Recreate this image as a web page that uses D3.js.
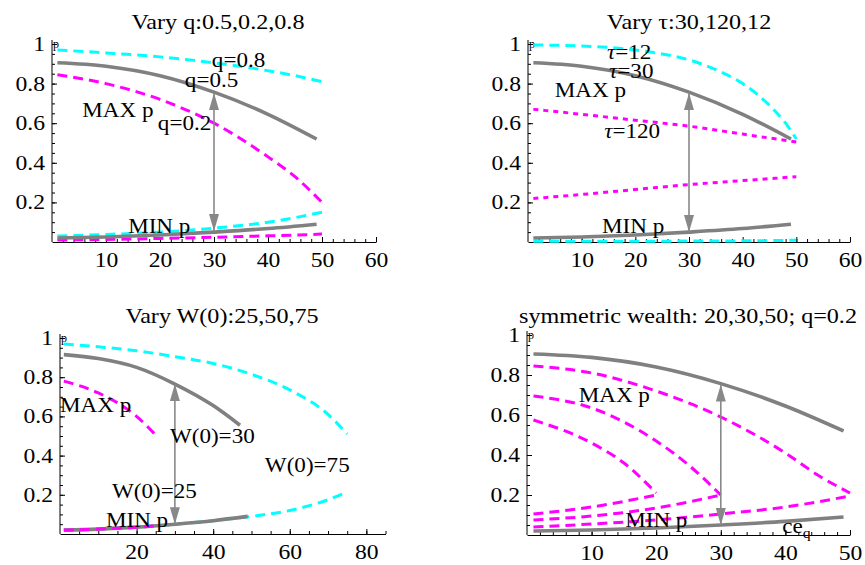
<!DOCTYPE html>
<html>
<head>
<meta charset="utf-8">
<script src="https://cdn.jsdelivr.net/npm/d3@7"></script>
<style>
  body { margin: 0; background: #fff; }
  svg text { font-family: "Liberation Serif", "Times New Roman", serif; fill: #000; }
</style>
</head>
<body>
<svg id="chart" width="865" height="565"></svg>
<script>
// ---- data ----
// shared "base" curves (q=0.5, tau=30, W(0)=50), drawn solid grey
var xsBase = [1, 10, 20, 30, 40, 49];
var grayMax = [0.905, 0.888, 0.84, 0.757, 0.645, 0.52];
var grayMin = [0.02, 0.025, 0.035, 0.05, 0.068, 0.09];

// panel 1: vary q
var xsQ = [1, 10, 20, 30, 40, 45, 50];
var q08Max = [0.97, 0.955, 0.935, 0.905, 0.865, 0.84, 0.81];
var q08Min = [0.03, 0.038, 0.05, 0.07, 0.10, 0.123, 0.15];
var q02Max = [0.845, 0.80, 0.72, 0.60, 0.43, 0.33, 0.20];
var q02Min = [0.01, 0.013, 0.018, 0.024, 0.031, 0.035, 0.04];

// panel 2: vary tau
var xsTau12 = [1, 10, 20, 25, 30, 35, 40, 45, 48, 50];
var tau12Max = [0.995, 0.99, 0.97, 0.95, 0.92, 0.87, 0.80, 0.69, 0.60, 0.52];
var tau12Min = [0.004, 0.004, 0.004, 0.004, 0.005, 0.005, 0.006, 0.007, 0.008, 0.01];
var xsTau120 = [1, 10, 20, 30, 40, 50];
var tau120Max = [0.67, 0.645, 0.615, 0.585, 0.545, 0.505];
var tau120Min = [0.22, 0.24, 0.265, 0.29, 0.31, 0.33];

// panel 3: vary W(0)
var xsW25 = [1, 10, 20, 25];
var w25Max = [0.78, 0.72, 0.60, 0.505];
var w25Min = [0.02, 0.025, 0.035, 0.042];
var xsW50 = [1, 10, 20, 30, 40, 47];
var w50Max = [0.915, 0.895, 0.85, 0.765, 0.655, 0.555];
var xsW75 = [1, 10, 20, 30, 40, 50, 60, 70, 75];
var w75Max = [0.97, 0.955, 0.935, 0.905, 0.87, 0.815, 0.735, 0.61, 0.51];
var w75Min = [0.02, 0.025, 0.035, 0.05, 0.068, 0.09, 0.12, 0.175, 0.215];

// panel 4: symmetric wealth 20,30,50
var xsS20 = [1, 10, 15, 20];
var s20Max = [0.575, 0.46, 0.36, 0.21];
var xsS20m = [1, 10, 20];
var s20Min = [0.105, 0.14, 0.2];
var xsS30 = [1, 10, 20, 25, 30];
var s30Max = [0.695, 0.635, 0.47, 0.35, 0.20];
var xsS30m = [1, 10, 20, 30];
var s30Min = [0.075, 0.095, 0.135, 0.2];
var s50Max = [0.845, 0.81, 0.72, 0.59, 0.41, 0.30, 0.21];
var xsS50m = [1, 10, 20, 30, 40, 50];
var s50Min = [0.04, 0.055, 0.075, 0.105, 0.14, 0.195];

// tick labels
var yTicks = [0.2, 0.4, 0.6, 0.8, 1];
var xTicks60 = [10, 20, 30, 40, 50, 60];
var xTicks80 = [20, 40, 60, 80];
var xTicks50 = [10, 20, 30, 40, 50];

var titles = ['Vary q:0.5,0.2,0.8', 'Vary \u03c4:30,120,12', 'Vary W(0):25,50,75', 'symmetric wealth: 20,30,50; q=0.2'];

// ---- layout ----
var panels = [
  { title: titles[0], left: 52, right: 376, bottom: 242, top: 44, xMax: 60, titleX: 218, titleY: 29,
    xTicks: xTicks60, xMinor: 2,
    series: [
      { xs: xsQ, ys: q08Max, kind: 'cyan' }, { xs: xsQ, ys: q08Min, kind: 'cyan' },
      { xs: xsQ, ys: q02Max, kind: 'magenta' }, { xs: xsQ, ys: q02Min, kind: 'magenta' },
      { xs: xsBase, ys: grayMax, kind: 'gray' }, { xs: xsBase, ys: grayMin, kind: 'gray' }
    ],
    arrow: [30, 0.055, 0.752],
    labels: [
      { t: 'q=0.8', x: 29.6, y: 0.884 }, { t: 'q=0.5', x: 24.6, y: 0.783 },
      { t: 'MAX p', x: 5.6, y: 0.631 }, { t: 'q=0.2', x: 19.6, y: 0.566 },
      { t: 'MIN p', x: 14.1, y: 0.045 }
    ] },
  { title: titles[1], left: 528, right: 850, bottom: 242, top: 44, xMax: 60, titleX: 689, titleY: 29,
    xTicks: xTicks60, xMinor: 2,
    series: [
      { xs: xsTau12, ys: tau12Max, kind: 'cyan' }, { xs: xsTau12, ys: tau12Min, kind: 'cyan' },
      { xs: xsTau120, ys: tau120Max, kind: 'magentaDot' }, { xs: xsTau120, ys: tau120Min, kind: 'magentaDot' },
      { xs: xsBase, ys: grayMax, kind: 'gray' }, { xs: xsBase, ys: grayMin, kind: 'gray' }
    ],
    arrow: [30, 0.05, 0.752],
    labels: [
      { t: 'tau=12', x: 14.7, y: 0.924 }, { t: 'tau=30', x: 15.1, y: 0.828 },
      { t: 'MAX p', x: 5.0, y: 0.732 }, { t: 'tau=120', x: 14.2, y: 0.525 },
      { t: 'MIN p', x: 13.8, y: 0.045 }
    ] },
  { title: titles[2], left: 60, right: 385.5, bottom: 534, top: 338, xMax: 85, titleX: 222, titleY: 323,
    xTicks: xTicks80, xMinor: 5,
    series: [
      { xs: xsW75, ys: w75Max, kind: 'cyan' }, { xs: xsW75, ys: w75Min, kind: 'cyan' },
      { xs: xsW50, ys: w50Max, kind: 'gray' }, { xs: xsBase, ys: grayMin, kind: 'gray' },
      { xs: xsW25, ys: w25Max, kind: 'magenta' }, { xs: xsW25, ys: w25Min, kind: 'magenta' }
    ],
    arrow: [30, 0.05, 0.765],
    labels: [
      { t: 'MAX p', x: 0, y: 0.622 }, { t: 'W(0)=30', x: 28.7, y: 0.464 },
      { t: 'W(0)=75', x: 53.5, y: 0.316 }, { t: 'W(0)=25', x: 13.6, y: 0.184 },
      { t: 'MIN p', x: 12.0, y: 0.036 }
    ] },
  { title: titles[3], left: 527, right: 850, bottom: 535, top: 335, xMax: 50, titleX: 688, titleY: 323,
    xTicks: xTicks50, xMinor: 2,
    series: [
      { xs: xsS20, ys: s20Max, kind: 'magenta' }, { xs: xsS20m, ys: s20Min, kind: 'magenta' },
      { xs: xsS30, ys: s30Max, kind: 'magenta' }, { xs: xsS30m, ys: s30Min, kind: 'magenta' },
      { xs: xsQ, ys: s50Max, kind: 'magenta' }, { xs: xsS50m, ys: s50Min, kind: 'magenta' },
      { xs: xsBase, ys: grayMax, kind: 'gray' }, { xs: xsBase, ys: grayMin, kind: 'gray' }
    ],
    arrow: [30, 0.05, 0.752],
    labels: [
      { t: 'MAX p', x: 8.0, y: 0.665 }, { t: 'MIN p', x: 15.2, y: 0.04 },
      { t: 'ceq', x: 39.5, y: 0.008 }
    ] }
];

var styles = {
  gray:       { stroke: '#808080', width: 3.6, dash: null },
  cyan:       { stroke: '#00ffff', width: 3, dash: '10,6' },
  magenta:    { stroke: '#ff00ff', width: 3, dash: '10,6' },
  magentaDot: { stroke: '#ff00ff', width: 3, dash: '5,5' }
};

var svg = d3.select('#chart');

// arrow head
svg.append('defs').append('marker')
  .attr('id', 'ah')
  .attr('viewBox', '0 0 17 10')
  .attr('refX', 17).attr('refY', 5)
  .attr('markerUnits', 'userSpaceOnUse')
  .attr('markerWidth', 17).attr('markerHeight', 10)
  .attr('orient', 'auto-start-reverse')
  .append('path').attr('d', 'M0,0L17,5L0,10Z').attr('fill', '#888');

function yFmt(d) { return d === 1 ? '1' : d.toFixed(1); }

function range(a, b, step) {
  var out = [];
  for (var v = a; v <= b + 1e-9; v += step) out.push(+v.toFixed(4));
  return out;
}

function drawPanel(p, i) {
  var x = d3.scaleLinear().domain([0, p.xMax]).range([p.left, p.right]);
  var y = d3.scaleLinear().domain([0, 1]).range([p.bottom, p.top]);
  var g = svg.append('g').attr('class', 'panel-' + i);

  // title
  g.append('text')
    .attr('text-anchor', 'middle')
    .attr('font-size', 21)
    .attr('transform', 'translate(' + p.titleX + ',' + p.titleY + ') scale(1.15,1)')
    .text(p.title);

  // minor ticks
  g.append('g').attr('transform', 'translate(0,' + p.bottom + ')')
    .call(d3.axisBottom(x).tickValues(range(p.xMinor, p.xMax, p.xMinor)).tickFormat('').tickSizeInner(-3).tickSizeOuter(0))
    .call(function(a) { a.select('.domain').remove(); });
  g.append('g').attr('transform', 'translate(' + p.left + ',0)')
    .call(d3.axisLeft(y).tickValues(range(0.05, 1, 0.05)).tickFormat('').tickSizeInner(-3).tickSizeOuter(0))
    .call(function(a) { a.select('.domain').remove(); });

  // major axes
  var xa = g.append('g').attr('transform', 'translate(0,' + p.bottom + ')')
    .call(d3.axisBottom(x).tickValues(p.xTicks).tickSizeInner(-5).tickSizeOuter(0).tickPadding(11));
  var ya = g.append('g').attr('transform', 'translate(' + p.left + ',0)')
    .call(d3.axisLeft(y).tickValues(yTicks).tickFormat(yFmt).tickSizeInner(-5).tickSizeOuter(0).tickPadding(6));
  [xa, ya].forEach(function(a) {
    a.attr('font-size', null).attr('font-family', null);
    a.selectAll('text').attr('font-size', 20).attr('transform', 'scale(1.18,1)');
    a.selectAll('line, path').attr('stroke', '#000');
  });
  // y axis line a bit above 1
  ya.select('.domain').attr('d', 'M0,' + (p.bottom) + 'V' + (p.top - 4));

  // small axis label p
  g.append('text').attr('x', p.left + 1).attr('y', p.top + 4)
    .attr('font-size', 12).text('p');

  // curves
  var line = d3.line()
    .x(function(d) { return x(d[0]); })
    .y(function(d) { return y(d[1]); })
    .curve(d3.curveMonotoneX);

  p.series.forEach(function(s) {
    var st = styles[s.kind];
    g.append('path')
      .datum(d3.zip(s.xs, s.ys))
      .attr('d', line)
      .attr('fill', 'none')
      .attr('stroke', st.stroke)
      .attr('stroke-width', st.width)
      .attr('stroke-dasharray', st.dash);
  });

  // double arrow between MIN and MAX
  g.append('line')
    .attr('x1', x(p.arrow[0])).attr('x2', x(p.arrow[0]))
    .attr('y1', y(p.arrow[1])).attr('y2', y(p.arrow[2]))
    .attr('stroke', '#888').attr('stroke-width', 1.6)
    .attr('marker-start', 'url(#ah)').attr('marker-end', 'url(#ah)');

  // labels
  p.labels.forEach(function(l) {
    var t = g.append('text')
      .attr('font-size', 22)
      .attr('transform', 'translate(' + x(l.x) + ',' + y(l.y) + ') scale(1.05,1)');
    if (l.t.indexOf('tau') === 0) {
      t.append('tspan').attr('font-style', 'italic').text('\u03c4');
      t.append('tspan').text(l.t.slice(3));
    } else if (l.t === 'ceq') {
      t.append('tspan').text('ce');
      t.append('tspan').attr('font-size', 15).attr('dy', 5).text('q');
    } else {
      t.text(l.t);
    }
  });
}

panels.forEach(drawPanel);
</script>
</body>
</html>
